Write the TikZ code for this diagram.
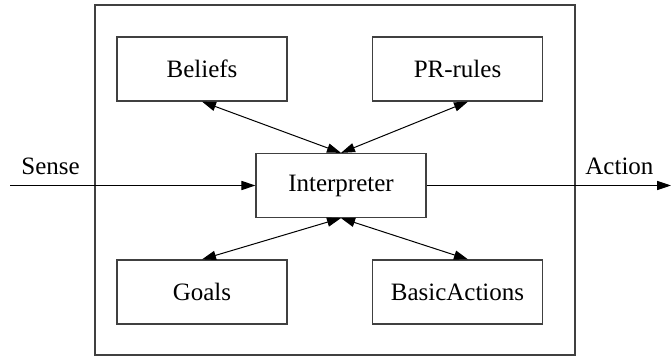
\documentclass[tikz,border=0pt]{standalone}
\usepackage{fontspec}
\setmainfont{Liberation Serif}
\usetikzlibrary{arrows.meta,calc}
\begin{document}
\begin{tikzpicture}[x=0.5pt,y=-0.5pt,
  box/.style={draw=black!75,line width=0.6pt,rectangle,minimum width=85pt,minimum height=32pt,inner sep=0pt,font=\fontsize{12.5}{15}\selectfont},
  lbl/.style={inner sep=0pt,font=\fontsize{12.5}{15}\selectfont},
  conn/.style={line width=0.5pt,-{Triangle[length=7pt,width=4.6pt]}},
  biconn/.style={line width=0.5pt,{Triangle[length=7pt,width=4.6pt]}-{Triangle[length=7pt,width=4.6pt]}}]
\useasboundingbox (0,0) rectangle (671,358);
\node[draw=black!75,line width=0.6pt,minimum width=240pt,minimum height=175pt,inner sep=0pt] (outer) at (335,180) {};
\node[box] (beliefs) at (202,69) {Beliefs};
\node[box] (pr) at (457.5,69) {PR-rules};
\node[box] (interp) at (341,185.5) {Interpreter};
\node[box] (goals) at (202,292) {Goals};
\node[box] (basic) at (457.5,292) {BasicActions};
\coordinate (sensein) at (10,185.5);
\coordinate (actionout) at (671,185.5);
\node[lbl,anchor=base west] (senselbl) at (21,175) {Sense};
\node[lbl,anchor=base west] (actionlbl) at (585,175) {Action};
\draw[conn] (sensein) -- (interp.west);
\draw[conn] (interp.east) -- (actionout);
\draw[biconn] (beliefs.south) -- (interp.north);
\draw[biconn] ([xshift=5.25pt]pr.south) -- (interp.north);
\draw[biconn] (goals.north) -- (interp.south);
\draw[biconn] ([xshift=5.25pt]basic.north) -- (interp.south);
\end{tikzpicture}
\end{document}
